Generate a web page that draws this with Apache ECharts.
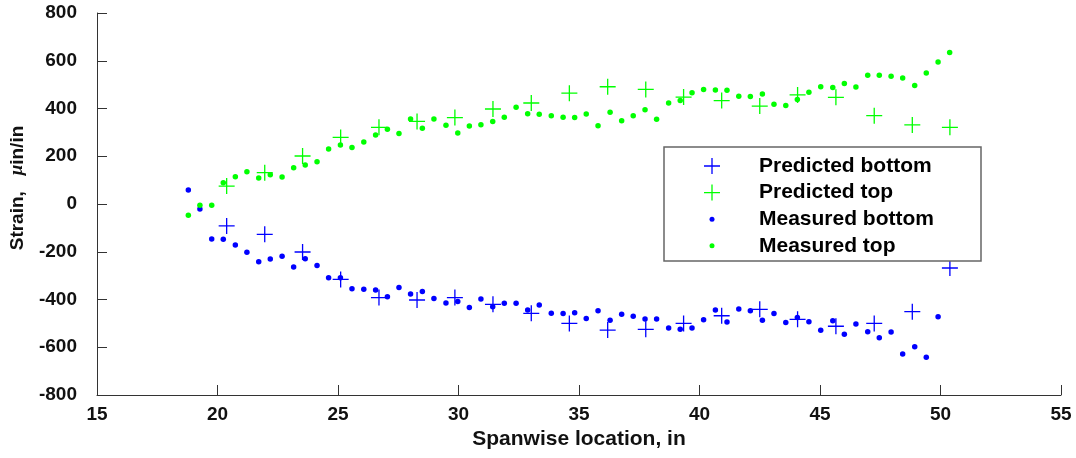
<!DOCTYPE html>
<html>
<head>
<meta charset="utf-8">
<script src="https://cdn.jsdelivr.net/npm/echarts@6/dist/echarts.min.js"></script>
<style>html,body{margin:0;padding:0;background:#fff}#c{width:1076px;height:458px}</style>
</head>
<body>
<div id="c"></div>
<script>
// ---- data ----
const measuredX = [18.79,19.27,19.76,20.24,20.74,21.22,21.71,22.19,22.68,23.16,23.64,24.13,24.61,25.10,25.58,26.07,26.56,27.05,27.53,
  28.01,28.50,28.98,29.48,29.97,30.45,30.93,31.42,31.90,32.39,32.87,33.35,33.85,34.34,34.82,35.30,35.79,36.29,
  36.77,37.25,37.74,38.22,38.72,39.20,39.69,40.17,40.66,41.14,41.63,42.11,42.61,43.09,43.58,44.06,44.54,45.03,45.53,
  46.01,46.49,46.98,47.46,47.95,48.43,48.93,49.41,49.90,50.38];
const measuredTop = [-47,-5,-5,89,114,135,109,123,113,152,163,177,230,247,237,260,289,313,295,
  356,317,356,330,297,327,332,346,363,405,378,376,370,363,362,377,328,384,
  349,370,395,355,423,433,466,480,477,476,451,450,461,418,413,438,468,491,488,
  505,490,539,539,535,528,496,549,595,635];
const measuredBottom = [59,-21,-147,-148,-172,-202,-242,-230,-219,-264,-229,-258,-309,-309,-355,-357,-360,-388,-350,
  -377,-367,-396,-415,-408,-433,-398,-430,-416,-416,-444,-423,-458,-459,-455,-480,-447,-487,
  -462,-470,-482,-482,-519,-525,-519,-485,-444,-494,-440,-447,-487,-459,-496,-475,-493,-529,-489,
  -546,-503,-535,-560,-536,-628,-598,-642,-472];
const predictedX = [20.38,21.96,23.53,25.11,26.70,28.28,29.85,31.43,33.02,34.60,36.19,37.77,39.34,40.92,42.50,44.07,45.66,47.25,48.83,50.39];
const predictedTop = [75,131,201,279,321,346,362,398,423,464,491,480,448,433,410,457,447,370,331,321];
const predictedBottom = [-92,-127,-201,-316,-392,-402,-392,-420,-458,-500,-528,-525,-500,-468,-441,-483,-512,-500,-451,-268];
const seriesNames = ['Predicted bottom','Predicted top','Measured bottom','Measured top'];
const xTicks = {min:15, max:55, step:5};
const yTicks = {min:-800, max:800, step:200};

const pair = (xs, ys) => ys.map((v, i) => [xs[i], v]);
const BLUE = '#0000ff', GREEN = '#00ff00';
const PLUS = 'path://M7.35,0H8.65V16H7.35Z M0,7.35H16V8.65H0Z';
const DOT_ICON = 'path://M0,0 M16,16 M5.5,8A2.5,2.5 0 1,0 10.5,8A2.5,2.5 0 1,0 5.5,8Z';
const FONT = '"Liberation Sans", Arial, Helvetica, sans-serif';
const TXT = '#111';

const chart = echarts.init(document.getElementById('c'), null, {renderer: 'canvas'});
const axisCol = '#333';
chart.setOption({
  animation: false,
  backgroundColor: '#fff',
  grid: {left: 97, right: 15, top: 13, bottom: 63, containLabel: false},
  xAxis: {
    type: 'value', min: xTicks.min, max: xTicks.max, interval: xTicks.step,
    name: 'Spanwise location, in', nameLocation: 'middle', nameGap: 33,
    nameTextStyle: {fontFamily: FONT, fontWeight: 'bold', fontSize: 21, color: TXT},
    axisLine: {show: true, onZero: false, lineStyle: {color: axisCol, width: 1}},
    axisTick: {show: true, inside: true, length: 10, lineStyle: {color: axisCol}},
    axisLabel: {fontFamily: FONT, fontWeight: 'bold', fontSize: 19, color: TXT, margin: 10},
    splitLine: {show: false}
  },
  yAxis: {
    type: 'value', min: yTicks.min, max: yTicks.max, interval: yTicks.step,
    name: 'Strain,   {mu|μ}in/in', nameLocation: 'middle', nameGap: 70,
    nameTextStyle: {fontFamily: FONT, fontWeight: 'bold', fontSize: 19, color: TXT, padding: [0, 0, 0, 32],
      rich: {mu: {fontFamily: '"Liberation Serif", serif', fontStyle: 'italic', fontWeight: 'bold', fontSize: 19, color: TXT}}},
    axisLine: {show: true, onZero: false, lineStyle: {color: axisCol, width: 1}},
    axisTick: {show: true, inside: true, length: 10, lineStyle: {color: axisCol}},
    axisLabel: {fontFamily: FONT, fontWeight: 'bold', fontSize: 19, color: TXT, margin: 20},
    splitLine: {show: false}
  },
  graphic: [{
    type: 'rect', z: 3, silent: true,
    shape: {x: 664, y: 147, width: 317, height: 114},
    style: {fill: '#fff', stroke: '#666', lineWidth: 1.5}
  }],
  legend: {
    z: 10, orient: 'vertical', left: 704, top: 155.5, padding: 0,
    itemWidth: 16, itemHeight: 16, itemGap: 5.6, selectedMode: false,
    textStyle: {fontFamily: FONT, fontWeight: 'bold', fontSize: 21, color: '#000', padding: [0, 0, 0, 34]},
    data: [
      {name: seriesNames[0], icon: PLUS, itemStyle: {color: BLUE}},
      {name: seriesNames[1], icon: PLUS, itemStyle: {color: GREEN}},
      {name: seriesNames[2], icon: DOT_ICON, itemStyle: {color: BLUE}},
      {name: seriesNames[3], icon: DOT_ICON, itemStyle: {color: GREEN}}
    ]
  },
  series: [
    {name: seriesNames[0], type: 'scatter', symbol: PLUS, symbolSize: 16, itemStyle: {color: BLUE, opacity: 1},
      data: pair(predictedX, predictedBottom)},
    {name: seriesNames[1], type: 'scatter', symbol: PLUS, symbolSize: 16, itemStyle: {color: GREEN, opacity: 1},
      data: pair(predictedX, predictedTop)},
    {name: seriesNames[2], type: 'scatter', symbol: 'circle', symbolSize: 5.5, itemStyle: {color: BLUE, opacity: 1},
      data: pair(measuredX, measuredBottom)},
    {name: seriesNames[3], type: 'scatter', symbol: 'circle', symbolSize: 5.5, itemStyle: {color: GREEN, opacity: 1},
      data: pair(measuredX, measuredTop)}
  ]
});
</script>
</body>
</html>
